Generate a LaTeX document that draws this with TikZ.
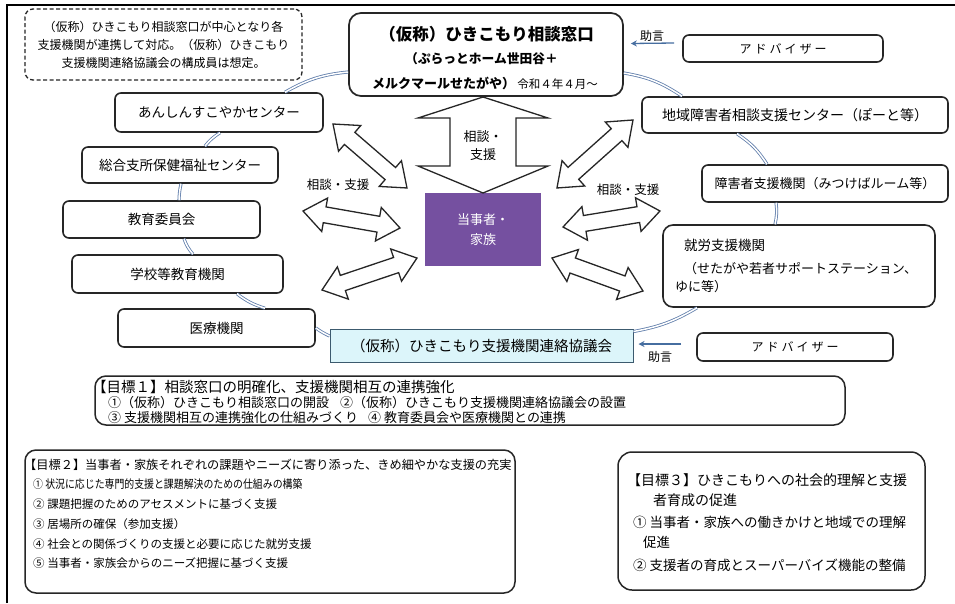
\documentclass[tikz,border=0pt]{standalone}
\usepackage{fontspec}
\usepackage{graphicx}
\setmainfont{Noto Sans CJK JP}
\usetikzlibrary{arrows.meta,calc}
\definecolor{ringc}{RGB}{95,125,170}
\definecolor{advc}{RGB}{70,110,160}
\definecolor{purp}{RGB}{117,80,160}
\definecolor{cyanbg}{RGB}{220,245,250}
\definecolor{cyanbd}{RGB}{60,90,110}
\newcommand\fsz[2]{\fontsize{#1}{#2}\selectfont}
\newcommand\advtext{ア\kern3pt ド\kern3pt バ\kern3pt イ\kern3pt ザ\kern3pt ー}
\newcommand\blockarrow[3]{%
  \begin{scope}[shift={#1},rotate=#2]
    \draw[barr] (0,0) -- (22,17) -- (22,8) -- ({#3-22},8) -- ({#3-22},17) -- (#3,0)
      -- ({#3-22},-17) -- ({#3-22},-8) -- (22,-8) -- (22,-17) -- cycle;
  \end{scope}}
\begin{document}
\begin{tikzpicture}[x=1pt,y=-1pt,
  org/.style={draw=black!85, line width=1.6pt, rounded corners=6pt, inner sep=0pt, fill=white, font=\fsz{13.5}{16}},
  goal/.style={draw=black!85, line width=1.5pt, rounded corners=11pt, inner sep=0pt},
  ring/.style={draw=ringc, line width=0.8pt, double=white, double distance=1.5pt},
  barr/.style={draw=black!85, line width=1.3pt, fill=white, line join=miter},
  advarr/.style={draw=advc, line width=1.3pt, -{Stealth[length=6pt,width=6pt]}},
  lbl/.style={inner sep=0pt, font=\fsz{12.5}{15}},
  txt/.style={inner sep=0pt, anchor=west},
]
\fill[white] (0,0) rectangle (955,603);
\useasboundingbox (0,0) rectangle (955,603);
\draw[line width=1.4pt] (7,603) -- (7,5) -- (955,5);

% note
\node[draw=black!85, dash pattern=on 4pt off 2.5pt, line width=1.3pt, rounded corners=8pt,
  minimum width=277pt, minimum height=71pt, align=center, font=\fsz{12}{18}, inner sep=0pt]
  (note) at (163.5,44.5) {（仮称）ひきこもり相談窓口が中心となり各\\支援機関が連携して対応。（仮称）ひきこもり\\支援機関連絡協議会の構成員は想定。};

% top box
\node[org, line width=1.7pt, rounded corners=12pt, minimum width=274pt, minimum height=83pt] (top) at (486,54.5) {};
\node[lbl, font=\bfseries\fsz{16.5}{18}] (top1) at (486.5,34) {（仮称）ひきこもり相談窓口};
\node[lbl, font=\bfseries\fsz{12.75}{15}] (top2) at (481.5,59) {（ぷらっとホーム世田谷＋};
\node[lbl] (top3) at (485,83) {{\bfseries\fsz{13}{15}メルクマールせたがや）}\,{\fsz{11.5}{15}令和４年４月～}};

% left boxes
\node[org, minimum width=208pt, minimum height=39pt] (anshin) at (219,112.5) {あんしんすこやかセンター};
\node[org, minimum width=196pt, minimum height=36pt] (sougou) at (180,165) {総合支所保健福祉センター};
\node[org, minimum width=197pt, minimum height=37pt] (kyoiku) at (161.5,219.5) {教育委員会};
\node[org, minimum width=211pt, minimum height=38pt] (gakko) at (177.5,274) {学校等教育機関};
\node[org, minimum width=197pt, minimum height=38pt] (iryo) at (216.5,328) {医療機関};

% right boxes
\node[org, minimum width=200pt, minimum height=27pt, font=\fsz{12}{14}] (adv1) at (783,48.5) {\advtext};
\node[org, minimum width=306pt, minimum height=36pt, font=\fsz{14}{16}] (chiiki) at (795,115) {地域障害者相談支援センター（ぽーと等）};
\node[org, minimum width=246pt, minimum height=37pt, font=\fsz{13}{15}] (shogai) at (825,183.5) {障害者支援機関（みつけばルーム等）};
\node[org, minimum width=272pt, minimum height=82pt, rounded corners=10pt] (shuro) at (799,266) {};
\node[txt, font=\fsz{13.5}{15}] (shuro1) at (684,245) {就労支援機関};
\node[txt, font=\fsz{13}{15}] (shuro2) at (684,269) {（せたがや若者サポートステーション、};
\node[txt, font=\fsz{13}{15}] (shuro3) at (675,287) {ゆに等）};
\node[org, minimum width=196pt, minimum height=28pt, font=\fsz{12}{14}] (adv2) at (795,347) {\advtext};

% bottom council
\node[draw=cyanbd, fill=cyanbg, line width=1pt, minimum width=303pt, minimum height=33pt, inner sep=0pt,
  font=\fsz{14.5}{16}] (blue) at (481.5,345.5) {（仮称）ひきこもり支援機関連絡協議会};

% center
\node[fill=purp, minimum width=116pt, minimum height=73pt, text=white, align=center,
  font=\fsz{13}{20}, inner sep=0pt] (center) at (483,229.5) {当事者・\\家族};

% ring
\draw[ring] ([xshift=66pt]anshin.north) to[bend left=12] ([yshift=-17.5pt]top.west);
\draw[ring] ([yshift=-18.5pt]top.east) to[bend left=12] ([xshift=-113pt]chiiki.north);
\draw[ring] ([xshift=-58pt]chiiki.south) to[bend left=12] ([xshift=-58pt]shogai.north);
\draw[ring] ([xshift=-49pt]shogai.south) to[bend left=10] ([xshift=-24pt]shuro.north);
\draw[ring] ([xshift=-102pt]shuro.south) to[bend left=10] ([yshift=-3pt]blue.north east);
\draw[ring] ([yshift=9.5pt]blue.west) to[bend left=5] (iryo.east);
\draw[ring] ([xshift=48.5pt]iryo.north) to[bend left=10] ([xshift=59.5pt]gakko.south);
\draw[ring] ([xshift=15.5pt]gakko.north) to[bend left=10] ([xshift=22.5pt]kyoiku.south);
\draw[ring] ([xshift=17.5pt]kyoiku.north) to[bend left=5] ([xshift=1pt]sougou.south);
\draw[ring] ([xshift=25pt]sougou.north) to[bend left=10] ([xshift=1pt]anshin.south);

% advisers
\draw[advarr] ([xshift=-8pt,yshift=5.5pt]adv1.west) -- ([xshift=7pt,yshift=11pt]top.east);
\node[lbl, font=\fsz{12}{14}] (jogen1) at (652,36) {助言};
\draw[advarr] ([xshift=-15pt,yshift=3pt]adv2.west) -- ([xshift=5pt,yshift=1.5pt]blue.east);
\node[lbl, font=\fsz{12}{14}] (jogen2) at (660,357) {助言};

% block arrows
\draw[barr] (483,97) -- (548,118) -- (516,118) -- (516,166) -- (548,166) -- (483,193)
  -- (418,166) -- (450,166) -- (450,118) -- (418,118) -- cycle;
\node[lbl, align=center, font=\fsz{13}{18}] (vlab) at (483,146) {相談・\\支援};
\blockarrow{(333,124)}{-40.85}{97.8}
\blockarrow{(633,120)}{-138.2}{102}
\blockarrow{(303,211)}{-9.94}{98.5}
\blockarrow{(563,227)}{9.37}{98.3}
\blockarrow{(322,290)}{18.6}{100.2}
\blockarrow{(552,258)}{-19.93}{96.8}
\node[lbl] (lab1) at (338,185) {相談・支援};
\node[lbl] (lab2) at (628,190) {相談・支援};

% goals
\node[goal, minimum width=750pt, minimum height=49pt] (goal1) at (470,400.5) {};
\node[txt, font=\fsz{14.5}{16}] (g1t) at (92,387) {【目標１】相談窓口の明確化、支援機関相互の連携強化};
\node[txt, font=\fsz{13}{14}] (g1a) at (108,403) {①（仮称）ひきこもり相談窓口の開設};
\node[txt, font=\fsz{13}{14}] (g1b) at (340,403) {②（仮称）ひきこもり支援機関連絡協議会の設置};
\node[txt, font=\fsz{13}{14}] (g1c) at (108,418) {③ 支援機関相互の連携強化の仕組みづくり};
\node[txt, font=\fsz{13}{14}] (g1d) at (368,418) {④ 教育委員会や医療機関との連携};

\node[goal, minimum width=490pt, minimum height=143pt] (goal2) at (270,521.5) {};
\node[txt, font=\fsz{12.2}{14}] (g2t) at (24,465) {【目標２】当事者・家族それぞれの課題やニーズに寄り添った、きめ細やかな支援の充実};
\node[txt, font=\fsz{11.5}{13}] (g2a) at (33,484) {\scalebox{0.86}[1]{① 状況に応じた専門的支援と課題解決のための仕組みの構築}};
\node[txt, font=\fsz{11.5}{13}] (g2b) at (33,504) {② 課題把握のためのアセスメントに基づく支援};
\node[txt, font=\fsz{11.5}{13}] (g2c) at (33,524) {③ 居場所の確保（参加支援）};
\node[txt, font=\fsz{11.5}{13}] (g2d) at (33,544) {④ 社会との関係づくりの支援と必要に応じた就労支援};
\node[txt, font=\fsz{11.5}{13}] (g2e) at (33,563) {⑤ 当事者・家族会からのニーズ把握に基づく支援};

\node[goal, minimum width=307pt, minimum height=138pt, rounded corners=14pt] (goal3) at (771.5,521) {};
\node[txt, font=\fsz{14}{16}] (g3t) at (627,480) {【目標３】ひきこもりへの社会的理解と支援};
\node[txt, font=\fsz{14}{16}] (g3u) at (653,500) {者育成の促進};
\node[txt, font=\fsz{13.5}{15}] (g3a) at (633,522) {① 当事者・家族への働きかけと地域での理解};
\node[txt, font=\fsz{13.5}{15}] (g3b) at (643,542) {促進};
\node[txt, font=\fsz{13.5}{15}] (g3c) at (633,565) {② 支援者の育成とスーパーバイズ機能の整備};
\end{tikzpicture}
\end{document}
